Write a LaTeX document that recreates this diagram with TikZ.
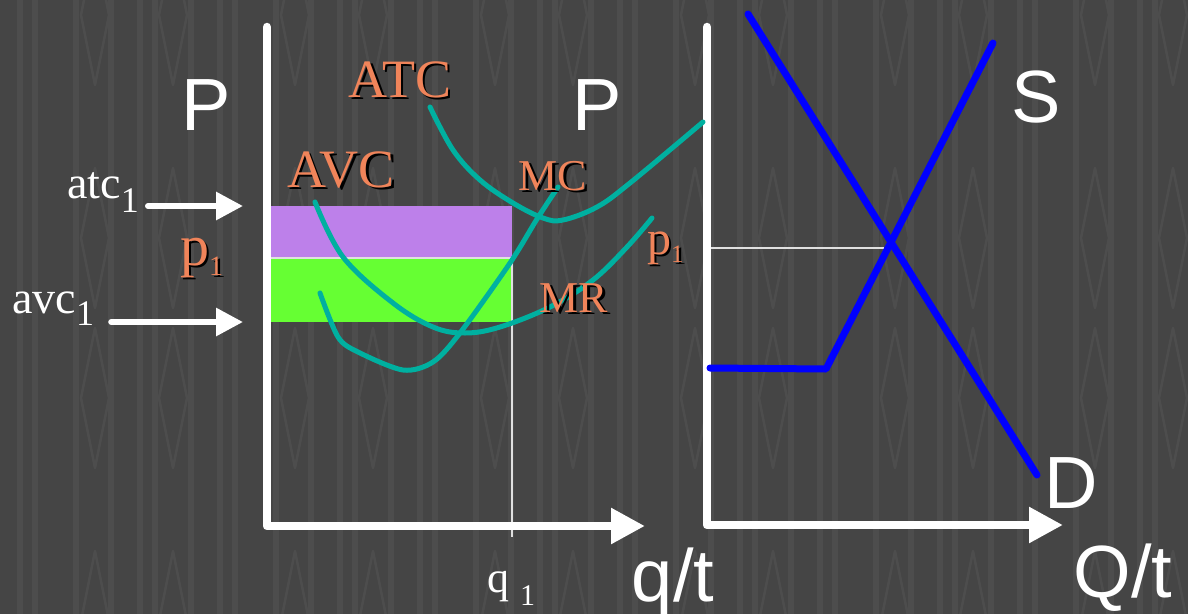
\documentclass[tikz,border=0pt]{standalone}
\usepackage{fontspec}
\setmainfont{Liberation Serif}
\setsansfont{Liberation Sans}
\usetikzlibrary{arrows.meta}
\definecolor{slate}{HTML}{454545}
\definecolor{weave}{HTML}{4D4D4D}
\definecolor{jade}{HTML}{00B0A0}
\definecolor{salmon}{HTML}{F0845A}
\definecolor{lilac}{HTML}{BD80EA}
\definecolor{lime}{HTML}{66FF33}
\definecolor{royal}{HTML}{0000FF}
\newcommand\shd[1]{\makebox[0pt][l]{\kern2.5pt\raisebox{-2.5pt}{\color{black}#1}}#1}
\begin{document}
\begin{tikzpicture}[x=1pt,y=-1pt,
    ax/.style={white,line width=8.5,line cap=round,line join=round,-{Triangle[length=34pt,width=34pt]}},
    ptr/.style={white,line width=6,line cap=round,-{Triangle[length=27pt,width=27pt]}},
    crv/.style={jade,line width=5,line cap=round},
    mkt/.style={royal,line width=7,line cap=round,line join=round},
    guide/.style={white!88!black,line width=1.6},
    axlbl/.style={white,inner sep=0,anchor=base,font=\sffamily\fontsize{74}{80}\selectfont},
    curvlbl/.style={salmon,inner sep=0,anchor=base},
    vallbl/.style={white,inner sep=0,anchor=base west}]
  \useasboundingbox (0,0) rectangle (1188,613);
  \clip (0,0) rectangle (1188,613);
  % backdrop
  \fill[slate] (-10,-10) rectangle (1200,630);
  \foreach \k in {0,200,...,1000}{
    \foreach \s in {20,35,76,111,140,155,191}
      \fill[weave] (\k+\s-3,-10) rectangle (\k+\s+3,630);
    \foreach \c in {95,173}
      \foreach \r in {15,238,398,621}
        \draw[weave,line width=2.5,line join=round] (\k+\c,\r-70) -- (\k+\c+14,\r)
          -- (\k+\c,\r+70) -- (\k+\c-14,\r) -- cycle;}
  % firm: loss areas
  \fill[lilac] (270,206) rectangle (512,258);
  \fill[lime] (270,258) rectangle (512,322);
  \coordinate (pL) at (270,258);
  \coordinate (pR) at (512,258);
  \coordinate (qB) at (512,537);
  \draw[guide] (pL) -- (pR) -- (qB);
  % market price
  \coordinate (PL) at (711,248);
  \coordinate (PR) at (884,248);
  \draw[guide] (PL) -- (PR);
  % axes
  \coordinate (oF) at (267,526);
  \coordinate (oM) at (707,525);
  \draw[ax] (267,27) -- (oF) -- (645,526);
  \draw[ax] (707,27) -- (oM) -- (1063,525);
  % cost curves
  \draw[crv] plot[smooth,tension=0.6] coordinates {(430,107) (453,150) (480,180) (513,203)
    (543,218) (563,220) (597,207) (630,183) (703,122)};
  \draw[crv] plot[smooth,tension=0.6] coordinates {(315,202) (343,257) (393,303) (433,327)
    (465,333) (500,327) (550,307) (593,280) (627,247) (652,218)};
  \draw[crv] plot[smooth,tension=0.5] coordinates {(320,293) (338,337) (358,352) (403,370)
    (433,362) (460,333) (510,263) (537,219) (558,187)};
  % supply and demand
  \draw[mkt] (748,14) -- (1037,475);
  \draw[mkt] (710,368) -- (826,369) -- (993,43);
  % labels
  \node[axlbl] (Pf) at (206,130) {P};
  \node[axlbl] (Pm) at (597,130) {P};
  \node[axlbl] (S) at (1036,122) {S};
  \node[axlbl] (D) at (1071,508) {D};
  \node[axlbl] (qt) at (673,601) {q/t};
  \node[axlbl] (Qt) at (1123,597) {Q/t};
  \node[curvlbl,font=\fontsize{54}{60}\selectfont] (atcC) at (400,97) {\shd{ATC}};
  \node[curvlbl,font=\fontsize{54}{60}\selectfont] (avcC) at (341,187) {\shd{AVC}};
  \node[curvlbl,font=\fontsize{44}{50}\selectfont] (mcC) at (553,190) {\shd{MC}};
  \node[curvlbl,font=\fontsize{44}{50}\selectfont] (mrC) at (574,312) {\shd{MR}};
  \node[curvlbl,anchor=base west] (p1F) at (180,265)
    {\shd{\fontsize{58}{60}\selectfont p\fontsize{28}{30}\selectfont\raisebox{-10pt}{1}}};
  \node[curvlbl,anchor=base west] (p1M) at (647,254)
    {\shd{\fontsize{48}{50}\selectfont p\fontsize{25}{30}\selectfont\raisebox{-8pt}{1}}};
  \node[vallbl] (atcV) at (67,198)
    {\fontsize{46}{50}\selectfont atc\fontsize{36}{40}\selectfont\raisebox{-14pt}{1}};
  \node[vallbl] (avcV) at (12,313)
    {\fontsize{46}{50}\selectfont avc\fontsize{36}{40}\selectfont\raisebox{-12pt}{1}};
  \node[vallbl] (q1V) at (487,592)
    {\fontsize{44}{48}\selectfont q \fontsize{30}{32}\selectfont\raisebox{-13pt}{1}};
  \coordinate (atcTip) at (243,206);
  \coordinate (avcTip) at (243,322);
  \draw[ptr,shorten <=9pt] (atcV.east |- atcTip) -- (atcTip);
  \draw[ptr,shorten <=17pt] (avcV.east |- avcTip) -- (avcTip);
\end{tikzpicture}
\end{document}
